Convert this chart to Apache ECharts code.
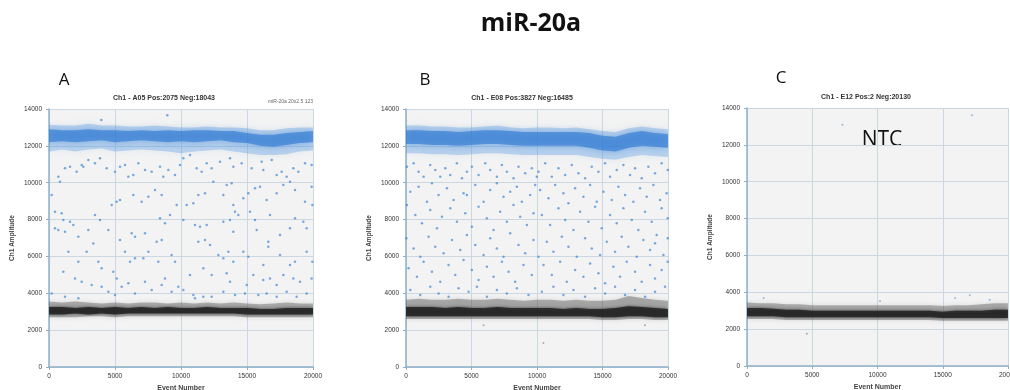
<!DOCTYPE html>
<html><head><meta charset="utf-8">
<script src="https://cdn.jsdelivr.net/npm/echarts@6/dist/echarts.min.js"></script>
<style>html,body{margin:0;padding:0;background:#fff}#c{width:1010px;height:390px}</style>
</head><body><div id="c"></div>
<script>
// ---------- data ----------
const mainTitle = 'miR-20a';
const panelLetters = ['A', 'B', 'C'];
const panelTitles = ['Ch1 - A05 Pos:2075 Neg:18043', 'Ch1 - E08 Pos:3827 Neg:16485', 'Ch1 - E12 Pos:2 Neg:20130'];
const xTicks = [0, 5000, 10000, 15000, 20000];
const yTicks = [0, 2000, 4000, 6000, 8000, 10000, 12000, 14000];
const evBins = [0,1000,2000,3000,4000,5000,6000,7000,8000,9000,10000,11000,12000,13000,14000,15000,16000,17000,18000,19000,20000];

// Panel A dense bands (amplitude edges per event bin)
const aBlueHi     = [13150,13100,13100,13200,13100,13100,13050,13050,13100,13050,13000,13000,13050,13000,13000,12950,12850,12850,12950,13000,13000];
const aBlueCoreHi = [12900,12850,12850,12900,12850,12850,12800,12850,12800,12850,12800,12850,12850,12800,12800,12700,12600,12600,12700,12750,12800];
const aBlueCoreLo = [12200,12250,12200,12250,12300,12200,12250,12300,12250,12200,12250,12200,12250,12300,12200,12150,12000,11950,12050,12150,12200];
const aBlueLo     = [11700,11800,11700,11800,11850,11700,11750,11800,11750,11700,11600,11700,11750,11800,11700,11600,11500,11500,11550,11700,11750];
const aGrayHi     = [3550,3500,3550,3500,3450,3500,3450,3500,3500,3450,3500,3450,3500,3450,3500,3450,3400,3450,3500,3450,3450];
const aGrayCoreHi = [3250,3250,3200,3250,3200,3250,3200,3250,3200,3250,3200,3200,3250,3200,3200,3200,3150,3150,3200,3200,3200];
const aGrayCoreLo = [2850,2850,2900,2850,2900,2850,2900,2900,2900,2900,2900,2900,2900,2900,2900,2850,2850,2850,2850,2850,2850];
const aGrayLo     = [2700,2700,2700,2750,2750,2700,2750,2750,2750,2750,2750,2750,2750,2750,2750,2700,2700,2700,2700,2700,2700];

// Panel B dense bands
const bBlueHi     = [13100,13100,13050,13050,13000,13000,13050,13100,13000,12950,13000,13000,12950,13000,12900,12800,12750,12950,13050,12950,12900];
const bBlueCoreHi = [12850,12850,12800,12800,12750,12800,12850,12850,12800,12750,12750,12750,12750,12750,12700,12550,12500,12700,12800,12700,12650];
const bBlueCoreLo = [12100,12100,12050,12050,12000,12050,12100,12100,12050,12000,12000,12000,12000,12000,11900,11750,11700,11900,12000,11950,11900];
const bBlueLo     = [11600,11600,11550,11550,11500,11550,11600,11600,11550,11500,11500,11500,11500,11500,11400,11300,11250,11400,11500,11450,11400];
const bGrayHi     = [3650,3700,3650,3650,3700,3650,3650,3700,3650,3600,3650,3650,3600,3650,3600,3600,3650,3850,3750,3650,3600];
const bGrayCoreHi = [3250,3250,3250,3200,3250,3200,3200,3250,3200,3200,3200,3200,3150,3200,3150,3150,3200,3300,3250,3200,3150];
const bGrayCoreLo = [2750,2750,2750,2750,2750,2750,2750,2750,2750,2750,2750,2750,2750,2750,2750,2700,2700,2750,2750,2700,2700];
const bGrayLo     = [2600,2600,2600,2600,2600,2600,2600,2600,2600,2600,2600,2600,2600,2600,2600,2550,2550,2600,2600,2550,2550];

// Panel C dense band
const cGrayHi     = [3450,3400,3400,3350,3350,3300,3300,3300,3300,3300,3300,3300,3300,3300,3300,3250,3300,3300,3350,3400,3400];
const cGrayCoreHi = [3150,3150,3100,3050,3050,3000,3000,3000,3000,3000,3000,3000,3000,3000,3000,2950,3000,3000,3000,3050,3050];
const cGrayCoreLo = [2700,2700,2700,2650,2650,2650,2650,2650,2650,2650,2650,2650,2650,2650,2650,2600,2600,2600,2600,2600,2600];
const cGrayLo     = [2550,2550,2550,2500,2500,2500,2500,2500,2500,2500,2500,2500,2500,2500,2500,2450,2450,2450,2450,2450,2450];

// Scattered droplets (event number, amplitude)
const aScatter = [
[202,9332],[707,10327],[833,10055],[1212,10779],[1591,10869],[2096,10598],[2475,10960],[2601,10869],[2980,11231],[3485,11050],[3863,11322],[4368,10779],[4999,10598],[5378,10869],[5757,10960],[6010,10327],[6388,10417],[6767,11050],[7272,10688],[7777,10598],[8408,10869],[8661,10327],[9040,10688],[9545,10417],[9924,10960],
[455,8427],[960,8337],[1086,7975],[1591,7884],[1843,7704],[455,7523],[707,7432],[1212,7342],[2222,7070],[2980,7432],[3485,8246],[3863,7975],[4494,7432],[5126,8970],[5378,9060],[4747,8789],[6388,9332],[7020,8970],[7525,9241],[8030,9603],[8535,9332],[8408,8065],[8787,7794],[9166,8246],[9671,8789],[6262,7251],[6515,7070],[7272,7251],[8156,6799],[8535,6890],
[1465,6256],[2222,5714],[2853,6256],[3358,6708],[3737,5714],[3990,5352],[4873,5171],[5126,4809],[5378,6890],[5757,6256],[6136,5714],[6515,5895],[7146,5895],[7525,6256],[8282,5714],[8787,4809],[9292,6075],[9545,5714],
[1086,5171],[1970,4809],[2475,4628],[3232,4447],[3990,4357],[4494,4086],[4999,3905],[5504,4357],[6010,4538],[6515,3995],[7272,4628],[7777,4176],[8535,4447],[9292,4086],[9797,4357],[202,3995],[1212,3814],[2222,3724],
[10177,11322],[10682,11503],[11187,10779],[11565,10598],[11944,11050],[12323,10779],[12954,11141],[13712,11322],[13964,10869],[14595,11050],[15353,10779],[16110,11141],[16237,10688],[16868,11231],[17247,10417],[17625,10598],[18004,10327],[18509,10779],[18888,10598],[19393,11050],[19898,10960],
[10429,8789],[10934,8880],[11313,9332],[11818,9422],[12449,10055],[13207,9332],[13459,9874],[13838,9965],[13964,8789],[14090,8427],[14722,9151],[15100,9422],[15605,9693],[15984,9784],[16489,9060],[17247,9422],[17752,9874],[18257,10055],[18635,9603],[19393,8970],[19898,9784],[19950,8789],
[10177,7975],[11060,7704],[11439,7613],[11944,7704],[13207,7884],[13712,7975],[13964,7342],[14343,8246],[15227,8427],[15605,7975],[15732,7432],[16742,8246],[17499,7161],[18257,7523],[18635,8065],[19267,7884],[19519,7523],
[11313,6799],[11818,6890],[12197,6618],[12828,6075],[13207,5895],[13585,6256],[13964,5714],[14722,6256],[15100,5985],[16237,5533],[16615,6799],[16615,6528],[17499,6075],[18257,5533],[18635,5714],[19519,6256],[19950,5714],
[10682,4990],[11692,5352],[12323,4990],[13459,5081],[13712,4628],[14974,4447],[15479,4990],[16237,4719],[16742,4809],[17247,4447],[17752,4990],[18509,4809],[19014,4628],[19898,4809],
[10177,4176],[10934,3905],[11060,3724],[11692,3814],[12323,3814],[13207,4086],[14090,3905],[14848,3995],[15858,3905],[16489,3995],[17247,3814],[18004,4086],[18761,3814],[19519,3995],
[8964,13658],[3964,13400]
];
const bScatter = [
[73,10869],[582,11050],[963,10598],[1344,10327],[1853,10960],[2234,10688],[2615,10327],[2997,10779],[3378,10417],[3886,11050],[4268,10236],[4649,10598],[5030,10869],[5539,10417],[6047,11050],[6428,10688],[6937,10327],[7318,10960],[7699,10598],[8208,10236],[8589,10869],[9098,10508],[9606,10779],[9987,10327],
[328,9513],[963,9784],[1599,8970],[1980,9965],[2488,9332],[3124,9693],[3632,9060],[4395,9422],[4649,9332],[5285,9874],[5920,8970],[6428,9603],[6937,9965],[7445,9241],[7954,9513],[8462,9784],[8843,8970],[9479,9332],[9860,9874],
[73,8789],[709,8246],[1217,7794],[1853,8518],[2361,7523],[2743,8156],[3378,8608],[3886,7884],[4522,8337],[5030,7613],[5539,8699],[6174,8065],[6683,7432],[7191,8427],[7699,7884],[8208,8789],[8716,8156],[9225,7704],[9733,8337],
[20,6980],[582,6437],[1090,5985],[1726,7070],[2234,6528],[2870,6166],[3505,6890],[4141,6347],[4649,7161],[5285,6618],[5920,6075],[6428,6980],[6937,6437],[7445,5985],[7954,7251],[8589,6618],[9098,6166],[9733,6890],
[201,5352],[836,4900],[1344,5714],[1980,5171],[2615,4628],[3251,5533],[3759,4990],[4395,5804],[5030,5261],[5539,4719],[6174,5443],[6683,4900],[7318,5714],[7827,5171],[8335,4628],[8970,5533],[9606,4990],
[328,4176],[1090,3905],[1853,4357],[2488,3995],[3251,3814],[4014,4267],[4776,4086],[5412,4357],[6174,3814],[6937,4176],[7699,3995],[8462,4267],[9352,3905],
[10113,10598],[10622,11050],[11130,10327],[11638,10779],[12147,10417],[12655,10960],[13164,10508],[13672,10236],[14180,10869],[14689,10598],[15197,11050],[15578,10327],[16087,10688],[16595,10960],[17104,10417],[17485,10779],[17993,10236],[18502,10869],[19010,10508],[19519,11050],[19980,10688],
[10240,9603],[10876,9151],[11384,9874],[12020,9422],[12401,8880],[12909,9693],[13545,9241],[14053,9874],[14562,8970],[15070,9513],[15706,9060],[16214,9784],[16722,9332],[17358,8970],[17866,9693],[18375,9241],[18883,9874],[19392,9060],[19900,9422],
[10367,8246],[11003,7704],[11638,8608],[12147,7975],[12782,7432],[13291,8427],[13926,7884],[14435,8699],[14943,7523],[15578,8246],[16087,7794],[16595,8608],[17231,7975],[17739,7432],[18248,8427],[18756,7884],[19137,7161],[19519,8608],[19980,8065],
[10113,5985],[10749,6799],[11257,6256],[11893,7070],[12401,6528],[13037,5985],[13672,6980],[14180,6437],[14816,6075],[15324,6799],[15960,6256],[16468,7070],[16977,6528],[17612,5985],[18121,6890],[18629,6347],[19010,6709],[19646,6075],[19980,6980],
[10494,5533],[11130,4990],[11765,5714],[12274,4628],[12909,5261],[13545,4900],[14053,5623],[14689,5081],[15197,4538],[15833,5443],[16341,4900],[16850,5714],[17485,5171],[17993,4628],[18629,5533],[19010,4809],[19519,5261],[19980,5714],
[10367,4086],[11257,4357],[12020,3905],[12782,4176],[13672,3814],[14435,4267],[15197,3995],[15960,4357],[16722,3905],[17485,4176],[18248,3814],[19010,4086],[19773,4357]
];
const bLowOutliers = [[10490,1300],[5918,2260],[18237,2260]];
const cScatter = [[7312,13096],[17248,13602],[1274,3690],[15949,3690],[17070,3835],[18599,3600],[10191,3527]];
const cLowOutliers = [[4586,1755]];

// ---------- layout ----------
const grids = [
  {left: 49, top: 109, width: 264, height: 258},
  {left: 406, top: 109, width: 262, height: 258},
  {left: 747, top: 108, width: 261, height: 258}
];
const font = 'Liberation Sans, Arial, sans-serif';
const axisCol = '#8fb0c8';

function xAxis(i) {
  return {gridIndex: i, type: 'value', min: 0, max: 20000, interval: 5000,
    name: 'Event Number', nameLocation: 'middle', nameGap: 17,
    nameTextStyle: {fontSize: 7, fontWeight: 'bold', color: '#444', fontFamily: font},
    axisLine: {show: true, lineStyle: {color: axisCol, width: 1.5}},
    axisTick: {show: true, length: 3, lineStyle: {color: axisCol}},
    axisLabel: {fontSize: 6.5, color: '#333', margin: 6, fontFamily: font, hideOverlap: false,
      formatter: v => xTicks.includes(v) ? String(v) : ''},
    splitLine: {show: true, lineStyle: {color: '#cbd8e2', width: 1}}};
}
function yAxis(i) {
  return {gridIndex: i, type: 'value', min: 0, max: 14000, interval: 2000,
    name: 'Ch1 Amplitude', nameLocation: 'middle', nameGap: 33, nameRotate: 90,
    nameTextStyle: {fontSize: 6.5, fontWeight: 'bold', color: '#444', fontFamily: font},
    axisLine: {show: true, lineStyle: {color: axisCol, width: 1.5}},
    axisTick: {show: true, length: 3, lineStyle: {color: axisCol}},
    axisLabel: {fontSize: 6.5, color: '#333', margin: 7, fontFamily: font,
      formatter: v => yTicks.includes(v) ? String(v) : ''},
    splitLine: {show: true, lineStyle: {color: '#cbd8e2', width: 1}}};
}
function band(i, lo, hi, color, blur) {
  return {type: 'custom', xAxisIndex: i, yAxisIndex: i, data: [[0, 0]], silent: true, clip: true,
    renderItem: (params, api) => {
      const pts = [];
      for (let k = 0; k < evBins.length; k++) pts.push(api.coord([evBins[k], hi[k]]));
      for (let k = evBins.length - 1; k >= 0; k--) pts.push(api.coord([evBins[k], lo[k]]));
      return {type: 'polygon', shape: {points: pts},
        style: {fill: color, shadowBlur: blur, shadowColor: color}};
    }};
}
function scatter(i, data, color, size) {
  return {type: 'scatter', xAxisIndex: i, yAxisIndex: i, data: data, symbolSize: size,
    silent: true, itemStyle: {color: color}};
}
const blueOut = 'rgba(90,155,225,0.35)', blueCore = 'rgba(45,120,210,0.62)';
const grayOut = 'rgba(80,80,80,0.4)', grayCore = 'rgba(35,35,35,0.85)';
const dot = 'rgba(45,125,210,0.8)';

const txt = (t, x, y, size, weight, align, color) => ({type: 'text', x: x, y: y, silent: true,
  style: {text: t, fontSize: size, fontWeight: weight, fontFamily: 'Open Sans, Liberation Sans, sans-serif',
    fill: color || '#111', align: align || 'center', verticalAlign: 'middle'}});

const option = {
  animation: false,
  backgroundColor: '#ffffff',
  grid: grids.map(g => Object.assign({show: true, backgroundColor: '#f3f3f3', borderWidth: 0,
    containLabel: false, outerBoundsMode: 'none'}, g)),
  xAxis: [0, 1, 2].map(xAxis),
  yAxis: [0, 1, 2].map(yAxis),
  series: [
    band(0, aBlueLo, aBlueHi, blueOut, 8), band(0, aBlueCoreLo, aBlueCoreHi, blueCore, 6),
    band(0, aGrayLo, aGrayHi, grayOut, 5), band(0, aGrayCoreLo, aGrayCoreHi, grayCore, 3),
    scatter(0, aScatter, dot, 2.5),
    band(1, bBlueLo, bBlueHi, blueOut, 8), band(1, bBlueCoreLo, bBlueCoreHi, blueCore, 6),
    band(1, bGrayLo, bGrayHi, grayOut, 5), band(1, bGrayCoreLo, bGrayCoreHi, grayCore, 3),
    scatter(1, bScatter, dot, 2.5), scatter(1, bLowOutliers, 'rgba(90,90,90,0.6)', 2),
    band(2, cGrayLo, cGrayHi, grayOut, 5), band(2, cGrayCoreLo, cGrayCoreHi, grayCore, 3),
    scatter(2, cScatter, 'rgba(80,140,200,0.7)', 2), scatter(2, cLowOutliers, 'rgba(90,90,90,0.6)', 2)
  ],
  graphic: [
    txt(mainTitle, 531, 24, 25, 'bold', 'center', '#111'),
    txt(panelLetters[0], 64, 80, 17, 'normal', 'center', '#111'),
    txt(panelLetters[1], 425, 80, 17, 'normal', 'center', '#111'),
    txt(panelLetters[2], 781, 78, 17, 'normal', 'center', '#111'),
    txt(panelTitles[0], 164, 98, 7, 'bold', 'center', '#333'),
    txt(panelTitles[1], 522, 98, 7, 'bold', 'center', '#333'),
    txt(panelTitles[2], 866, 97, 7, 'bold', 'center', '#333'),
    txt('miR-20a 20x2.5 123', 313, 102, 5, 'normal', 'right', '#666'),
    txt('NTC', 882, 140, 21, 'normal', 'center', '#111')
  ]
};
option.graphic.forEach(g => { if (g.style.fontSize < 10) g.style.fontFamily = font; });
echarts.init(document.getElementById('c')).setOption(option);
</script></body></html>
